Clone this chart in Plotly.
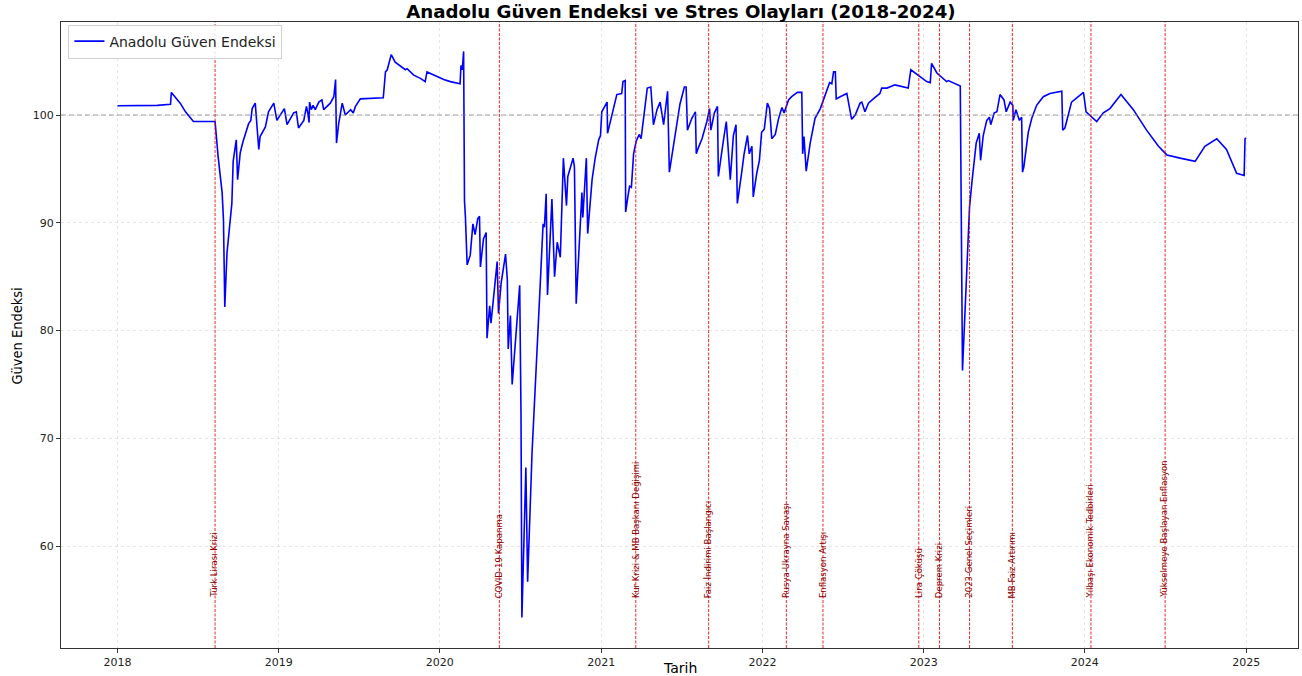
import plotly.graph_objects as go

# ---- data ----
dates = [
    "2018-01-01", "2018-04-01", "2018-05-01", "2018-05-03", "2018-05-23", "2018-06-04", "2018-06-22", "2018-08-10",
    "2018-08-17", "2018-08-26", "2018-08-29", "2018-09-01", "2018-09-06", "2018-09-17", "2018-09-20", "2018-09-27",
    "2018-09-30", "2018-10-06", "2018-10-12", "2018-10-25", "2018-10-30", "2018-11-02", "2018-11-09", "2018-11-17",
    "2018-11-20", "2018-11-28", "2018-12-02", "2018-12-09", "2018-12-21", "2018-12-28",
    "2019-01-09", "2019-01-14", "2019-01-20", "2019-02-04", "2019-02-10", "2019-02-15", "2019-02-27", "2019-03-05",
    "2019-03-08", "2019-03-11", "2019-03-12", "2019-03-16", "2019-03-20", "2019-03-25", "2019-04-02", "2019-04-09",
    "2019-04-13", "2019-04-21", "2019-04-28", "2019-05-06", "2019-05-10", "2019-05-12", "2019-05-17", "2019-05-25",
    "2019-06-01", "2019-06-13", "2019-06-19", "2019-06-24", "2019-07-05", "2019-08-26", "2019-08-29", "2019-08-31",
    "2019-09-04", "2019-09-13", "2019-09-22", "2019-10-04", "2019-10-15", "2019-10-19", "2019-10-26", "2019-11-03",
    "2019-11-18", "2019-11-29", "2019-12-03",
    "2020-01-10", "2020-01-25", "2020-02-16", "2020-02-18", "2020-02-21", "2020-02-24", "2020-02-26", "2020-02-28",
    "2020-03-03", "2020-03-10", "2020-03-16", "2020-03-21", "2020-03-27", "2020-03-31", "2020-04-02", "2020-04-09",
    "2020-04-15", "2020-04-17", "2020-04-23", "2020-04-26", "2020-05-10", "2020-05-13", "2020-05-19", "2020-05-29",
    "2020-06-02", "2020-06-04", "2020-06-09", "2020-06-13", "2020-06-20", "2020-06-30", "2020-07-03", "2020-07-05",
    "2020-07-14", "2020-07-18", "2020-07-28", "2020-08-08", "2020-08-16", "2020-08-22", "2020-08-25", "2020-08-29",
    "2020-09-01", "2020-09-11", "2020-09-17", "2020-09-23", "2020-09-30", "2020-10-07", "2020-10-14", "2020-10-17",
    "2020-10-29", "2020-11-01", "2020-11-05", "2020-11-18", "2020-11-20", "2020-11-28", "2020-12-01", "2020-12-11",
    "2020-12-18", "2020-12-26", "2020-12-30",
    "2021-01-02", "2021-01-14", "2021-01-15", "2021-01-25", "2021-02-01", "2021-02-05", "2021-02-16", "2021-02-19",
    "2021-02-24", "2021-02-25", "2021-03-02", "2021-03-06", "2021-03-10", "2021-03-15", "2021-03-21", "2021-03-28",
    "2021-04-01", "2021-04-06", "2021-04-15", "2021-04-23", "2021-04-29", "2021-05-07", "2021-05-14", "2021-05-22",
    "2021-05-31", "2021-06-04", "2021-06-13", "2021-06-21", "2021-06-28", "2021-07-08", "2021-07-12", "2021-07-15",
    "2021-07-25", "2021-08-02", "2021-08-04", "2021-08-09", "2021-08-17", "2021-08-28", "2021-09-03", "2021-09-06",
    "2021-09-14", "2021-09-21", "2021-09-23", "2021-10-05", "2021-10-11", "2021-10-20", "2021-10-27", "2021-11-02",
    "2021-11-05", "2021-11-15", "2021-11-20", "2021-11-28", "2021-12-02", "2021-12-08", "2021-12-11", "2021-12-19",
    "2021-12-25", "2021-12-30",
    "2022-01-05", "2022-01-12", "2022-01-17", "2022-01-22", "2022-01-30", "2022-02-06", "2022-02-14", "2022-02-19",
    "2022-02-25", "2022-03-01", "2022-03-08", "2022-03-21", "2022-03-31", "2022-04-02", "2022-04-05", "2022-04-10",
    "2022-04-19", "2022-04-30", "2022-05-12", "2022-05-23", "2022-06-02", "2022-06-07", "2022-06-11", "2022-06-15",
    "2022-06-17", "2022-06-26", "2022-07-11", "2022-07-22", "2022-07-30", "2022-08-10", "2022-08-14", "2022-08-21",
    "2022-08-29", "2022-09-09", "2022-09-24", "2022-09-28", "2022-10-10", "2022-10-28", "2022-11-27", "2022-12-03",
    "2022-12-17",
    "2023-01-08", "2023-01-16", "2023-01-19", "2023-01-31", "2023-02-15", "2023-02-22", "2023-02-26", "2023-03-25",
    "2023-03-30", "2023-04-05", "2023-04-15", "2023-04-21", "2023-04-30", "2023-05-07", "2023-05-10", "2023-05-16",
    "2023-05-24", "2023-05-30", "2023-06-02", "2023-06-10", "2023-06-16", "2023-06-23", "2023-06-27", "2023-07-02",
    "2023-07-07", "2023-07-16", "2023-07-22", "2023-07-23", "2023-07-29", "2023-08-06", "2023-08-11", "2023-08-13",
    "2023-08-16", "2023-08-26", "2023-09-03", "2023-09-14", "2023-09-29", "2023-10-14", "2023-11-10", "2023-11-12",
    "2023-11-17", "2023-12-02", "2023-12-29",
    "2024-01-04", "2024-01-28", "2024-02-12", "2024-02-27", "2024-03-23", "2024-04-20", "2024-05-20", "2024-06-16",
    "2024-07-05", "2024-08-04", "2024-09-07", "2024-09-29", "2024-10-26", "2024-11-17", "2024-12-10", "2024-12-27",
    "2024-12-29", "2024-12-31",
]

index_values = [
    100.86, 100.9, 101.0, 102.1, 101.1, 100.3, 99.4, 99.4,
    96.1, 92.8, 90.3, 82.2, 87.2, 91.8, 95.7, 97.7,
    94.0, 96.5, 97.5, 99.2, 99.5, 100.6, 101.1, 96.8,
    98.0, 98.6, 98.9, 100.3, 101.1, 99.5,
    100.3, 100.6, 99.1, 100.2, 100.3, 98.8, 99.5, 100.8,
    100.2, 99.3, 101.2, 100.5, 100.9, 100.5, 101.2, 101.4,
    100.5, 100.8, 101.1, 101.7, 103.3, 97.4, 99.2, 101.1,
    100.0, 100.5, 100.2, 100.8, 101.5, 101.6, 103.0, 104.0,
    104.2, 105.6, 104.9, 104.5, 104.2, 104.3, 104.0, 103.7,
    103.4, 103.1, 104.0,
    103.3, 103.1, 102.9, 104.6, 104.2, 105.9, 92.0, 90.6,
    86.1, 87.0, 89.9, 88.9, 90.4, 90.6, 85.9, 88.5,
    89.1, 79.3, 82.3, 80.7, 86.4, 81.6, 84.4, 87.1,
    84.7, 78.3, 81.4, 75.0, 78.8, 84.2, 72.2, 53.4,
    67.3, 56.7, 68.7, 77.4, 84.7, 89.9, 89.6, 92.7,
    83.3, 92.2, 85.0, 88.2, 86.8, 96.0, 91.6, 94.3,
    96.0, 95.2, 82.5, 92.8, 90.5, 96.0, 89.0, 94.0,
    96.0, 97.7, 98.1,
    100.3, 101.2, 98.3, 100.0, 101.0, 101.9, 102.0, 103.1,
    103.2, 91.0, 92.4, 93.4, 93.3, 96.4, 97.6, 98.2,
    97.8, 99.6, 102.5, 102.6, 99.1, 100.5, 101.2, 99.1,
    102.2, 94.7, 97.1, 98.9, 101.0, 102.6, 102.6, 98.6,
    99.7, 100.3, 96.4, 97.0, 97.8, 99.4, 100.6, 98.6,
    100.2, 100.8, 94.3, 97.8, 99.4, 94.0, 98.1, 99.1,
    91.8, 94.7, 96.3, 98.1, 96.4, 97.1, 92.4, 94.6,
    95.8, 98.4,
    98.7, 101.1, 100.6, 97.8, 98.2, 99.6, 100.7, 100.2,
    101.0, 101.4, 101.7, 102.1, 102.1, 96.4, 98.0, 94.8,
    97.4, 99.7, 100.6, 101.9, 103.0, 102.9, 104.0, 104.0,
    101.5, 101.7, 102.0, 99.6, 100.0, 101.1, 101.2, 100.3,
    101.1, 101.5, 102.0, 102.5, 102.5, 102.8, 102.5, 104.2,
    103.8,
    103.1, 103.0, 104.8, 103.9, 103.3, 103.1, 103.2, 102.7,
    76.3, 81.6, 91.5, 94.0, 97.4, 98.3, 95.8, 98.1,
    99.5, 99.8, 99.1, 100.2, 100.3, 101.9, 101.7, 101.4,
    100.3, 101.2, 100.9, 99.5, 100.5, 99.5, 99.8, 94.7,
    95.2, 98.4, 99.7, 100.9, 101.7, 102.0, 102.2, 98.6,
    98.8, 101.2, 102.1,
    100.3, 99.4, 100.2, 100.6, 101.9, 100.5, 98.6, 97.1,
    96.3, 96.0, 95.7, 97.1, 97.8, 96.8, 94.6, 94.4,
    97.8, 97.9,
]

event_dates = [
    "2018-08-10", "2020-05-15", "2021-03-20", "2021-09-01", "2022-02-24", "2022-05-18",
    "2022-12-21", "2023-02-06", "2023-04-15", "2023-07-21", "2024-01-15", "2024-07-01",
]
event_labels = [
    "Türk Lirası Krizi", "COVID-19 Kapanma", "Kur Krizi & MB Başkanı Değişimi",
    "Faiz İndirimi Başlangıcı", "Rusya-Ukrayna Savaşı", "Enflasyon Artışı",
    "Lira Çöküşü", "Deprem Krizi", "2023 Genel Seçimleri", "MB Faiz Artırımı",
    "Yılbaşı Ekonomik Tedbirleri", "Yükselmeye Başlayan Enflasyon",
]
baseline_value = 100
label_y_value = 55
year_ticks = ["2018", "2019", "2020", "2021", "2022", "2023", "2024", "2025"]

# ---- figure ----
fig = go.Figure()
fig.add_trace(go.Scatter(
    x=dates, y=index_values, mode="lines", name="Anadolu Güven Endeksi",
    line=dict(color="#0000ff", width=1.6),
))

shapes = [dict(type="line", xref="paper", x0=0, x1=1, yref="y", y0=baseline_value, y1=baseline_value,
               line=dict(color="rgba(128,128,128,0.75)", width=1.1, dash="5px,3px"), layer="above")]
annotations = []
narrow = "Liberation Sans Narrow, DejaVu Sans Condensed, Arial Narrow, sans-serif"
for d, lab in zip(event_dates, event_labels):
    shapes.append(dict(type="line", xref="x", x0=d, x1=d, yref="paper", y0=0, y1=1,
                       line=dict(color="rgba(235,0,0,0.85)", width=1, dash="3px,1.5px"), layer="above"))
    annotations.append(dict(x=d, y=label_y_value, xref="x", yref="y", text=lab, showarrow=False,
                            textangle=-90, xanchor="center", yanchor="bottom", xshift=-1,
                            font=dict(family=narrow, size=9.5, color="#8b0000")))

# axis titles as annotations for exact placement
annotations.append(dict(text="Tarih", xref="paper", yref="paper", x=0.5, y=-0.032, showarrow=False,
                        xanchor="center", yanchor="middle",
                        font=dict(family="DejaVu Sans", size=14, color="#000")))
annotations.append(dict(text="Güven Endeksi", xref="paper", yref="paper", x=-0.0356, y=0.499,
                        showarrow=False, textangle=-90, xanchor="center", yanchor="middle",
                        font=dict(family=narrow, size=14.5, color="#000")))

fig.update_layout(
    width=1302, height=676,
    margin=dict(l=61, r=4, t=22, b=28),
    paper_bgcolor="white", plot_bgcolor="white",
    title=dict(text="<b>Anadolu Güven Endeksi ve Stres Olayları (2018-2024)</b>",
               x=0.523, xanchor="center", y=1 - 12 / 676, yanchor="middle", yref="container",
               font=dict(family="DejaVu Sans", size=18.2, color="#000")),
    showlegend=True,
    legend=dict(x=0.006, y=0.996, xanchor="left", yanchor="top",
                bgcolor="rgba(255,255,255,0.85)", bordercolor="#d0d0d0", borderwidth=1,
                font=dict(family="DejaVu Sans", size=14, color="#222")),
    shapes=shapes, annotations=annotations,
    font=dict(family="DejaVu Sans"),
)
fig.update_xaxes(
    type="date", range=["2017-08-26", "2025-04-28"],
    tickvals=[y + "-01-01" for y in year_ticks], ticktext=year_ticks,
    showgrid=True, gridcolor="rgba(200,200,200,0.45)", griddash="dot", gridwidth=1,
    showline=True, linecolor="#333", linewidth=1, mirror=True,
    ticks="outside", ticklen=4, tickcolor="#333",
    tickfont=dict(family="DejaVu Sans", size=11, color="#222"), zeroline=False,
)
fig.update_yaxes(
    range=[50.56, 108.63], tick0=60, dtick=10,
    showgrid=True, gridcolor="rgba(200,200,200,0.45)", griddash="dot", gridwidth=1,
    showline=True, linecolor="#333", linewidth=1, mirror=True,
    ticks="outside", ticklen=4, tickcolor="#333",
    tickfont=dict(family="DejaVu Sans", size=11, color="#222"), zeroline=False,
)

fig.write_html(
    "out.html",
    config={"displayModeBar": False},
    post_script="document.body.style.margin='0px';document.body.style.overflow='hidden';",
)
